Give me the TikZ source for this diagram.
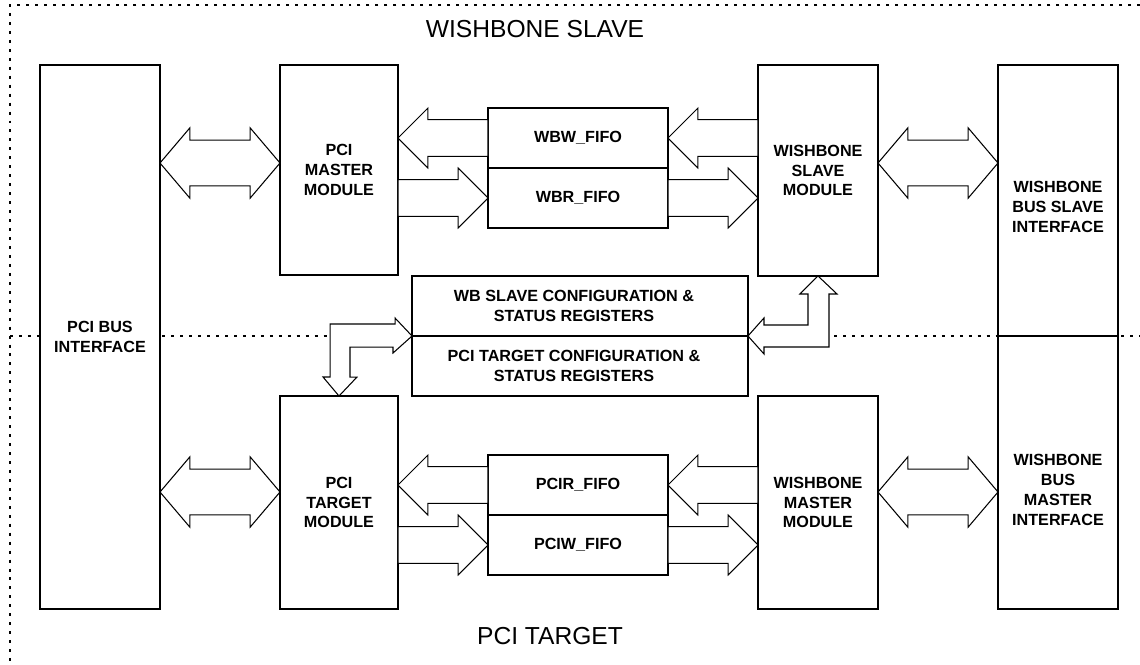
\documentclass[tikz,border=0pt]{standalone}
\usepackage{fontspec}
\setmainfont{Liberation Sans}
\usetikzlibrary{calc}

\newcommand{\flowarrow}[2]{%
  \draw[fat] let \p1=#1, \p2=#2, \p3=($#2!17pt!#1$) in
    (\x1,\y1+10.5pt) -- (\x3,\y1+10.5pt) -- (\x3,\y1+17pt) -- (\x2,\y2)
    -- (\x3,\y1-17pt) -- (\x3,\y1-10.5pt) -- (\x1,\y1-10.5pt) -- cycle;}
\newcommand{\busarrow}[2]{%
  \draw[fat] let \p1=#1, \p2=#2 in
    (\x1,\y1) -- (\x1+17pt,\y1+20pt) -- (\x1+17pt,\y1+13pt) -- (\x2-17pt,\y1+13pt)
    -- (\x2-17pt,\y1+20pt) -- (\x2,\y1) -- (\x2-17pt,\y1-20pt) -- (\x2-17pt,\y1-13pt)
    -- (\x1+17pt,\y1-13pt) -- (\x1+17pt,\y1-20pt) -- cycle;}

\begin{document}
\begin{tikzpicture}[x=0.02cm,y=-0.02cm,
  blk/.style={draw,line width=0.9pt,fill=white,inner sep=0pt,outer sep=0pt,align=center,
    font=\fontsize{9.2}{11.3}\selectfont\bfseries},
  lbl/.style={align=center,font=\fontsize{9.2}{11.3}\selectfont\bfseries},
  fat/.style={draw,line width=0.6pt,fill=white,line join=miter},
  zone/.style={line width=0.8pt,dash pattern=on 1.7pt off 3.4pt},
  ttl/.style={font=\fontsize{14}{17}\selectfont}]
  \useasboundingbox (0,0) rectangle (1140,664);
  \draw[zone](1140,5)--(10,5)--(10,664);
  \draw[zone](10,336)--(1140,336);
  \node[ttl] (wbtitle) at (535,29) {WISHBONE SLAVE};
  \node[ttl] (pcititle) at (550,636) {PCI TARGET};

  \node[blk,minimum width=2.4cm,minimum height=10.88cm] (pcibus) at (100,337) {PCI BUS\\INTERFACE};
  \node[blk,minimum width=2.36cm,minimum height=4.2cm] (pcim) at (339,170) {PCI\\MASTER\\MODULE};
  \node[blk,minimum width=2.36cm,minimum height=4.26cm] (pcit) at (339,502.5) {PCI\\TARGET\\MODULE};
  \node[blk,minimum width=3.6cm,minimum height=1.2cm] (wbw) at (578,138) {WBW\_FIFO};
  \node[blk,minimum width=3.6cm,minimum height=1.2cm] (wbr) at (578,198) {WBR\_FIFO};
  \node[blk,minimum width=3.6cm,minimum height=1.2cm] (pcir) at (578,485) {PCIR\_FIFO};
  \node[blk,minimum width=3.6cm,minimum height=1.2cm] (pciw) at (578,545) {PCIW\_FIFO};
  \node[blk,minimum width=2.4cm,minimum height=4.22cm] (wbs) at (818,170.5) {WISHBONE\\SLAVE\\MODULE};
  \node[blk,minimum width=2.4cm,minimum height=4.26cm] (wbm) at (818,502.5) {WISHBONE\\MASTER\\MODULE};
  \node[blk,minimum width=2.4cm,minimum height=5.42cm] (wbsi) at (1058,200.5) {};
  \node[blk,minimum width=2.4cm,minimum height=5.46cm] (wbmi) at (1058,472.5) {};
  \node[lbl] (wbsitext) at (1058,207) {WISHBONE\\BUS SLAVE\\INTERFACE};
  \node[lbl] (wbmitext) at (1058,490) {WISHBONE\\BUS\\MASTER\\INTERFACE};
  \node[blk,minimum width=6.72cm,minimum height=1.2cm] (cfgw) at (580,306) {};
  \node[blk,minimum width=6.72cm,minimum height=1.2cm] (cfgp) at (580,366) {};
  \node[lbl] (cfgwtext) at (574,306) {WB SLAVE CONFIGURATION \&\\STATUS REGISTERS};
  \node[lbl] (cfgptext) at (574,366) {PCI TARGET CONFIGURATION \&\\STATUS REGISTERS};

  \busarrow{(pcibus.east |- 0,163)}{(pcim.west |- 0,163)}
  \busarrow{(pcibus.east |- 0,492)}{(pcit.west |- 0,492)}
  \busarrow{(wbs.east |- 0,163)}{(wbsi.west |- 0,163)}
  \busarrow{(wbm.east |- 0,492)}{(wbmi.west |- 0,492)}

  \flowarrow{(wbw.west)}{(pcim.east |- wbw.west)}
  \flowarrow{(pcim.east |- wbr.west)}{(wbr.west)}
  \flowarrow{(wbs.west |- wbw.east)}{(wbw.east)}
  \flowarrow{(wbr.east)}{(wbs.west |- wbr.east)}
  \flowarrow{(pcir.west)}{(pcit.east |- pcir.west)}
  \flowarrow{(pcit.east |- pciw.west)}{(pciw.west)}
  \flowarrow{(wbm.west |- pcir.east)}{(pcir.east)}
  \flowarrow{(pciw.east)}{(wbm.west |- pciw.east)}

  \draw[fat](cfgw.south west)--++(-17,-18)--++(0,6)--++(-65,0)--++(0,53)--++(-7,0)
    --(pcit.north)--++(18,-19)--++(-7,0)--++(0,-30)--++(43,0)--++(0,6)--cycle;
  \draw[fat](cfgw.south east)--++(16,-18)--++(0,7)--++(44,0)--++(0,-31)--++(-8,0)
    --(wbs.south)--++(19,18)--++(-8,0)--++(0,53)--++(-65,0)--++(0,7)--cycle;
\end{tikzpicture}
\end{document}
